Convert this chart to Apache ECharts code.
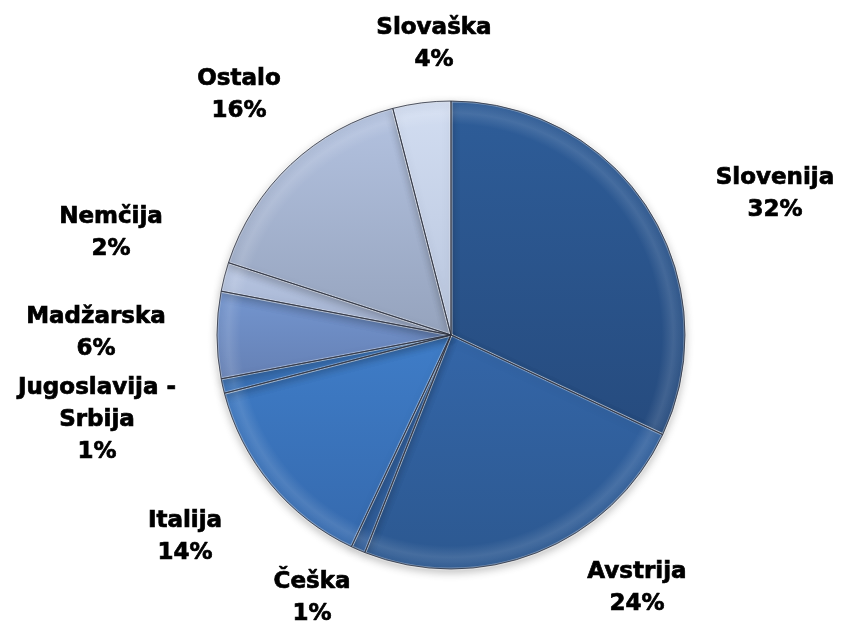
<!DOCTYPE html>
<html>
<head>
<meta charset="utf-8">
<script src="https://cdn.jsdelivr.net/npm/echarts@6/dist/echarts.min.js"></script>
<style>
html,body{margin:0;padding:0;background:#fff;}
#chart{width:845px;height:626px;}
</style>
</head>
<body>
<div id="chart"></div>
<script>
// Data
var categories = ['Slovenija', 'Avstrija', 'Češka', 'Italija', 'Jugoslavija -\nSrbija', 'Madžarska', 'Nemčija', 'Ostalo', 'Slovaška'];
var shares = [32, 24, 1, 14, 1, 6, 2, 16, 4];

// Styles / layout
var sliceColors = [
  ['#2e5d99', '#264b7e'],
  ['#3466a8', '#2c5890'],
  ['#3669ab', '#2f5c98'],
  ['#3f7dc8', '#3569ad'],
  ['#4281cc', '#386fb4'],
  ['#7496d0', '#6580b4'],
  ['#b8c6e2', '#a2b1cf'],
  ['#b3c2e0', '#95a3bd'],
  ['#d2ddf1', '#b9c6de']
];
var labelCenters = [
  [775, 194], [637, 588], [312, 598], [185, 537], [97, 420],
  [96, 333], [111, 233], [239, 95], [434, 44]
];
var CX = 451, CY = 335, R = 234;

var chart = echarts.init(document.getElementById('chart'));
var data = categories.map(function (c, i) {
  return {
    name: c,
    value: shares[i],
    itemStyle: {
      color: {
        type: 'linear', x: 0, y: 0, x2: 0, y2: 1,
        colorStops: [{offset: 0, color: sliceColors[i][0]}, {offset: 1, color: sliceColors[i][1]}]
      }
    }
  };
});
var overlayData = categories.map(function (c, i) {
  return {name: c, value: shares[i]};
});

chart.setOption({
  backgroundColor: '#ffffff',
  animation: false,
  series: [
    {
      type: 'pie',
      center: [CX, CY],
      radius: [0, R],
      startAngle: 90,
      clockwise: true,
      data: data,
      itemStyle: {
        borderColor: 'rgba(255,255,255,0.35)',
        borderWidth: 3,
        shadowBlur: 8,
        shadowOffsetY: 3,
        shadowColor: 'rgba(0,0,0,0.25)'
      },
      label: {
        show: true,
        position: 'outside',
        formatter: function (p) { return p.name + '\n' + p.value + '%'; },
        fontFamily: 'DejaVu Sans',
        fontWeight: 'bold',
        fontSize: 23,
        lineHeight: 32,
        color: '#000',
        textBorderColor: '#000',
        textBorderWidth: 0.7,
        align: 'center'
      },
      labelLine: {show: false},
      labelLayout: function (params) {
        var p = labelCenters[params.dataIndex];
        return {x: p[0], y: p[1], align: 'center', verticalAlign: 'middle'};
      },
      emphasis: {disabled: true}
    },
    {
      type: 'pie',
      center: [CX, CY],
      radius: [0, R],
      startAngle: 90,
      clockwise: true,
      silent: true,
      z: 3,
      data: overlayData,
      label: {show: false},
      labelLine: {show: false},
      itemStyle: {
        borderColor: 'rgba(45,50,65,0.8)',
        borderWidth: 1,
        color: {
          type: 'radial', x: CX, y: CY, r: R, global: true,
          colorStops: [
            {offset: 0, color: 'rgba(255,255,255,0)'},
            {offset: 0.9, color: 'rgba(255,255,255,0)'},
            {offset: 0.95, color: 'rgba(255,255,255,0.12)'},
            {offset: 0.99, color: 'rgba(255,255,255,0.05)'},
            {offset: 1, color: 'rgba(0,0,0,0.1)'}
          ]
        }
      },
      emphasis: {disabled: true}
    }
  ]
});
</script>
</body>
</html>
